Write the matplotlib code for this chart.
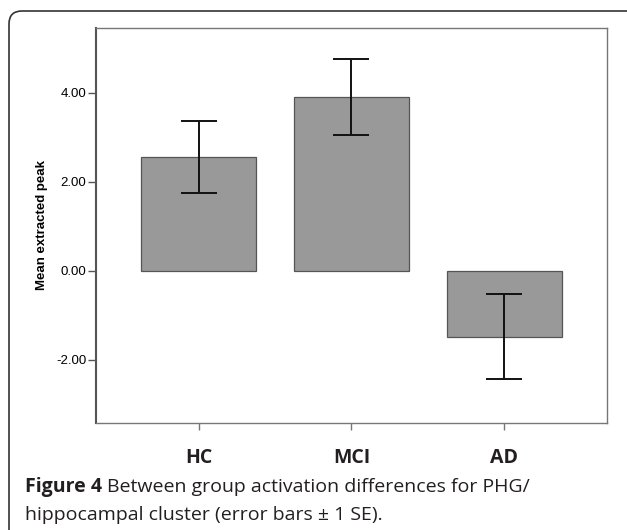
import matplotlib
matplotlib.use("Agg")
import matplotlib.pyplot as plt
from matplotlib.patches import FancyBboxPatch

# data
groups = ["HC", "MCI", "AD"]
means = [2.55, 3.91, -1.48]
se = [0.81, 0.86, 0.96]
yticks = [-2.0, 0.0, 2.0, 4.0]

fig = plt.figure(figsize=(6.27, 5.30), dpi=100)
ax = fig.add_axes([0.1531, 0.2019, 0.815, 0.7453])

x = range(len(groups))
ax.bar(x, means, width=0.755, color="#999999", edgecolor="#555555", linewidth=0.9, zorder=2)
ax.errorbar(x, means, yerr=se, fmt="none", ecolor="#111111", elinewidth=1.4,
            capsize=13, capthick=1.4, zorder=3)

ax.set_xlim(-0.67, 2.67)
ax.set_ylim(-3.42, 5.46)
ax.set_yticks(yticks)
ax.set_yticklabels([f"{v:.2f}" for v in yticks], fontfamily="Liberation Sans", fontsize=9.5)
ax.set_xticks(list(x))
ax.set_xticklabels(groups, fontfamily="Open Sans", fontweight="bold", fontsize=14, color="#231f20")
ax.tick_params(axis="y", direction="out", length=6, width=1, color="#555555", pad=1)
ax.tick_params(axis="x", direction="out", length=5, width=1, color="#777777", pad=13)
ax.set_ylabel("Mean extracted peak", fontfamily="Liberation Sans", fontweight="bold",
              fontsize=9.5, labelpad=6)

for s in ax.spines.values():
    s.set_color("#777777")
    s.set_linewidth(1.0)
ax.spines["left"].set_color("#555555")
ax.spines["left"].set_linewidth(1.5)

# caption: bold "Figure 4" followed by normal text
cap_y1 = 1 - 487 / 530
cap_y2 = 1 - 515 / 530
t1 = fig.text(25 / 627, cap_y1, "Figure 4", fontsize=14, va="center",
              fontfamily="Open Sans", fontweight="bold", color="#231f20")
fig.canvas.draw()
bb = t1.get_window_extent()
fig.text((bb.x1 + 5) / 627, cap_y1, "Between group activation differences for PHG/",
         fontsize=14, va="center", fontfamily="Open Sans", color="#231f20")
fig.text(25 / 627, cap_y2, "hippocampal cluster (error bars \u00b1 1 SE).",
         fontsize=14, va="center", fontfamily="Open Sans", color="#231f20")

# rounded frame around the figure
frame = FancyBboxPatch((0.09, -0.3), 6.5, 5.49, boxstyle="round,pad=0,rounding_size=0.13",
                       transform=fig.dpi_scale_trans, facecolor="none", edgecolor="#333333",
                       linewidth=1.2, clip_on=False)
fig.patches.append(frame)

fig.savefig("out.png", dpi=100)
